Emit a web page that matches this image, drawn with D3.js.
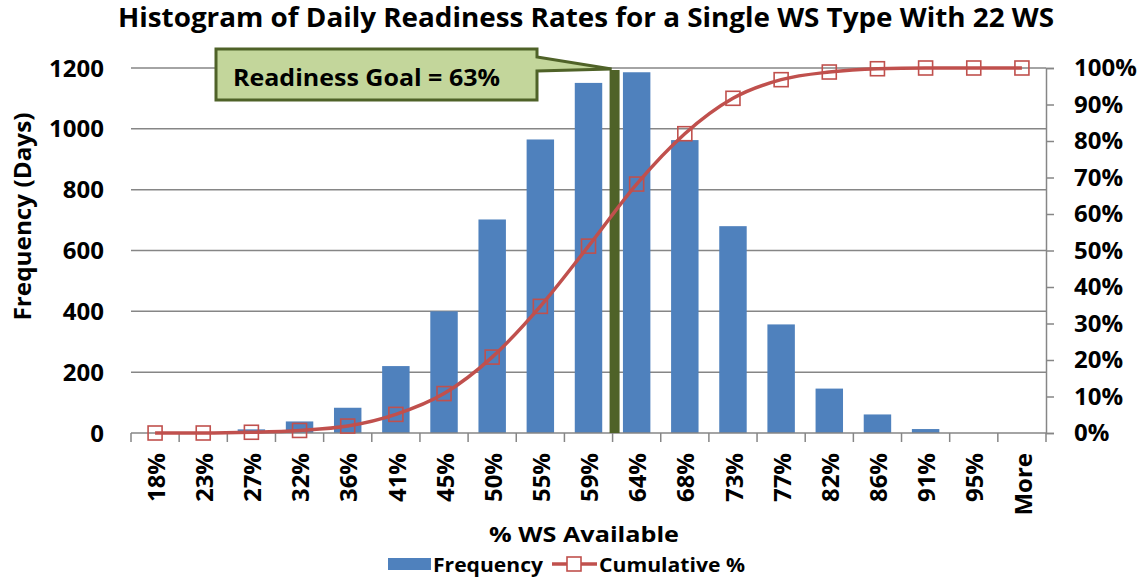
<!DOCTYPE html>
<html>
<head>
<meta charset="utf-8">
<script src="https://cdn.jsdelivr.net/npm/d3@7"></script>
<style>
  body { margin: 0; background: #fff; }
  text { font-family: "Open Sans", "Noto Sans", sans-serif; font-weight: bold; fill: #000; }
</style>
</head>
<body>
<svg id="drawing_region"></svg>
<script>
const categories = ["18%","23%","27%","32%","36%","41%","45%","50%","55%","59%",
                    "64%","68%","73%","77%","82%","86%","91%","95%","More"];
const frequency = [0, 0, 12, 38, 83, 220, 400, 702, 965, 1151,
                   1186, 963, 680, 357, 146, 61, 13, 0, 0];
const cumulative = [0, 0, 0.002, 0.007, 0.019, 0.051, 0.108, 0.208, 0.347, 0.512,
                    0.682, 0.820, 0.917, 0.968, 0.989, 0.998, 1.0, 1.0, 1.0];
const freqTicks = [0, 200, 400, 600, 800, 1000, 1200];
const pctTicks = [0, 0.1, 0.2, 0.3, 0.4, 0.5, 0.6, 0.7, 0.8, 0.9, 1.0];
const goalLabel = "Readiness Goal = 63%";

class ParetoChart {

  constructor( config ) {
    this.config = config;
    this.init();
  }

  init() {
    let self = this;

    self.svg = d3.select( self.config.parent )
        .attr('width', self.config.width)
        .attr('height', self.config.height);

    const m = self.config.margin;
    self.inner_width = self.config.width - m.left - m.right;
    self.inner_height = self.config.height - m.top - m.bottom;

    self.chart = self.svg.append('g')
        .attr('transform', `translate(${m.left}, ${m.top})`);

    self.xscale = d3.scaleBand()
        .domain( categories )
        .range( [0, self.inner_width] )
        .paddingInner( 0.43 )
        .paddingOuter( 0.215 );

    self.yscale = d3.scaleLinear()
        .domain( [0, 1200] )
        .range( [self.inner_height, 0] );

    self.y2scale = d3.scaleLinear()
        .domain( [0, 1] )
        .range( [self.inner_height, 0] );
  }

  render() {
    let self = this;
    const step = self.xscale.step();

    // gridlines
    self.chart.append('g')
        .selectAll('line')
        .data(freqTicks.filter(d => d > 0))
        .join('line')
        .attr('x1', 0)
        .attr('x2', self.inner_width)
        .attr('y1', d => self.yscale(d))
        .attr('y2', d => self.yscale(d))
        .attr('stroke', '#868686')
        .attr('stroke-width', 1.5);

    // left axis labels
    self.chart.append('g')
        .selectAll('text')
        .data(freqTicks)
        .join('text')
        .attr('x', -27)
        .attr('y', d => self.yscale(d))
        .attr('dy', '0.36em')
        .attr('text-anchor', 'end')
        .attr('font-size', '24px')
        .text(d => d);

    // right axis
    const yaxis2 = d3.axisRight( self.y2scale )
        .tickValues( pctTicks )
        .tickFormat( d3.format('.0%') )
        .tickSize( 8 )
        .tickPadding( 20 );

    const yaxis2_group = self.chart.append('g')
        .attr('transform', `translate(${self.inner_width}, 0)`)
        .call( yaxis2 );
    yaxis2_group.select('.domain').attr('stroke', '#868686').attr('stroke-width', 1.5);
    yaxis2_group.selectAll('.tick line').attr('stroke', '#868686').attr('stroke-width', 1.5);
    yaxis2_group.selectAll('.tick text')
        .attr('font-size', '24px')
        .attr('font-family', null)
        .attr('fill', '#000');

    // bars
    self.chart.append('g')
        .selectAll('rect')
        .data(frequency)
        .join('rect')
        .attr('x', (d, i) => self.xscale(categories[i]))
        .attr('y', d => self.yscale(d))
        .attr('width', self.xscale.bandwidth())
        .attr('height', d => self.inner_height - self.yscale(d))
        .attr('fill', '#4F81BD');

    // x axis line and ticks at band boundaries
    const xaxis_group = self.chart.append('g')
        .attr('transform', `translate(0, ${self.inner_height})`);
    xaxis_group.append('line')
        .attr('x1', 0).attr('x2', self.inner_width)
        .attr('stroke', '#868686').attr('stroke-width', 1.5);
    xaxis_group.selectAll('line.tk')
        .data(d3.range(categories.length + 1))
        .join('line')
        .attr('class', 'tk')
        .attr('x1', i => i * step).attr('x2', i => i * step)
        .attr('y1', 0).attr('y2', 9)
        .attr('stroke', '#868686').attr('stroke-width', 1.5);
    xaxis_group.selectAll('text')
        .data(categories)
        .join('text')
        .attr('transform', d => `translate(${self.xscale(d) + self.xscale.bandwidth() / 2 + 1}, 20) rotate(-90)`)
        .attr('dy', '0.36em')
        .attr('text-anchor', 'end')
        .attr('font-size', '24px')
        .text(d => d);

    // goal line
    const goalX = self.xscale("64%") - (step - self.xscale.bandwidth()) / 2 + 2;
    self.chart.append('line')
        .attr('x1', goalX).attr('x2', goalX)
        .attr('y1', self.inner_height).attr('y2', self.yscale(1200) + 2)
        .attr('stroke', '#4F6228')
        .attr('stroke-width', 10);

    // cumulative line
    const cx = (d, i) => self.xscale(categories[i]) + self.xscale.bandwidth() / 2;
    const line = d3.line()
        .x(cx)
        .y(d => self.y2scale(d))
        .curve(d3.curveMonotoneX);

    self.chart.append('path')
        .datum(cumulative)
        .attr('d', line)
        .attr('fill', 'none')
        .attr('stroke', '#C0504D')
        .attr('stroke-width', 3.5);

    self.chart.append('g')
        .selectAll('rect')
        .data(cumulative)
        .join('rect')
        .attr('x', (d, i) => cx(d, i) - 7)
        .attr('y', d => self.y2scale(d) - 7)
        .attr('width', 14)
        .attr('height', 14)
        .attr('fill', 'none')
        .attr('stroke', '#C0504D')
        .attr('stroke-width', 1.6);

    // callout
    const top = self.yscale(1200);
    const bx0 = 85, bx1 = 406, by0 = top - 19, by1 = top + 32;
    self.chart.append('path')
        .attr('d', `M${bx0},${by0} L${bx1},${by0} L${bx1},${by0 + 8} L${goalX - 3},${top + 1} L${bx1},${by0 + 22} L${bx1},${by1} L${bx0},${by1} Z`)
        .attr('fill', '#C3D69B')
        .attr('stroke', '#4F6228')
        .attr('stroke-width', 3)
        .attr('stroke-linejoin', 'miter');
    self.chart.append('text')
        .attr('x', bx0 + 17)
        .attr('y', top + 18)
        .attr('font-size', '23px')
        .attr('textLength', 267)
        .attr('lengthAdjust', 'spacingAndGlyphs')
        .text(goalLabel);

    // axis titles
    self.chart.append('text')
        .attr('transform', `translate(-100, ${self.inner_height / 2 - 34}) rotate(-90)`)
        .attr('text-anchor', 'middle')
        .attr('font-size', '23px')
        .attr('textLength', 208)
        .attr('lengthAdjust', 'spacingAndGlyphs')
        .text('Frequency (Days)');

    self.chart.append('text')
        .attr('x', 453)
        .attr('y', self.inner_height + 109)
        .attr('text-anchor', 'middle')
        .attr('font-size', '22px')
        .attr('textLength', 190)
        .attr('lengthAdjust', 'spacingAndGlyphs')
        .text('% WS Available');

    // title
    self.svg.append('text')
        .attr('x', 586)
        .attr('y', 27)
        .attr('text-anchor', 'middle')
        .attr('font-size', '26px')
        .attr('textLength', 936)
        .attr('lengthAdjust', 'spacingAndGlyphs')
        .text('Histogram of Daily Readiness Rates for a Single WS Type With 22 WS');

    // legend
    const legend = self.svg.append('g');
    legend.append('rect')
        .attr('x', 388).attr('y', 558)
        .attr('width', 43).attr('height', 12)
        .attr('fill', '#4F81BD');
    legend.append('text')
        .attr('x', 433).attr('y', 572)
        .attr('font-size', '20px')
        .attr('textLength', 110)
        .attr('lengthAdjust', 'spacingAndGlyphs')
        .text('Frequency');
    legend.append('line')
        .attr('x1', 552).attr('x2', 597)
        .attr('y1', 564).attr('y2', 564)
        .attr('stroke', '#C0504D').attr('stroke-width', 3.5);
    legend.append('rect')
        .attr('x', 567).attr('y', 557)
        .attr('width', 14).attr('height', 14)
        .attr('fill', '#fff')
        .attr('stroke', '#C0504D').attr('stroke-width', 1.6);
    legend.append('text')
        .attr('x', 599).attr('y', 572)
        .attr('font-size', '20px')
        .attr('textLength', 146)
        .attr('lengthAdjust', 'spacingAndGlyphs')
        .text('Cumulative %');
  }
}

const chart = new ParetoChart({
  parent: '#drawing_region',
  width: 1146,
  height: 581,
  margin: {top: 68, right: 100, bottom: 148, left: 131}
});
chart.render();
</script>
</body>
</html>
